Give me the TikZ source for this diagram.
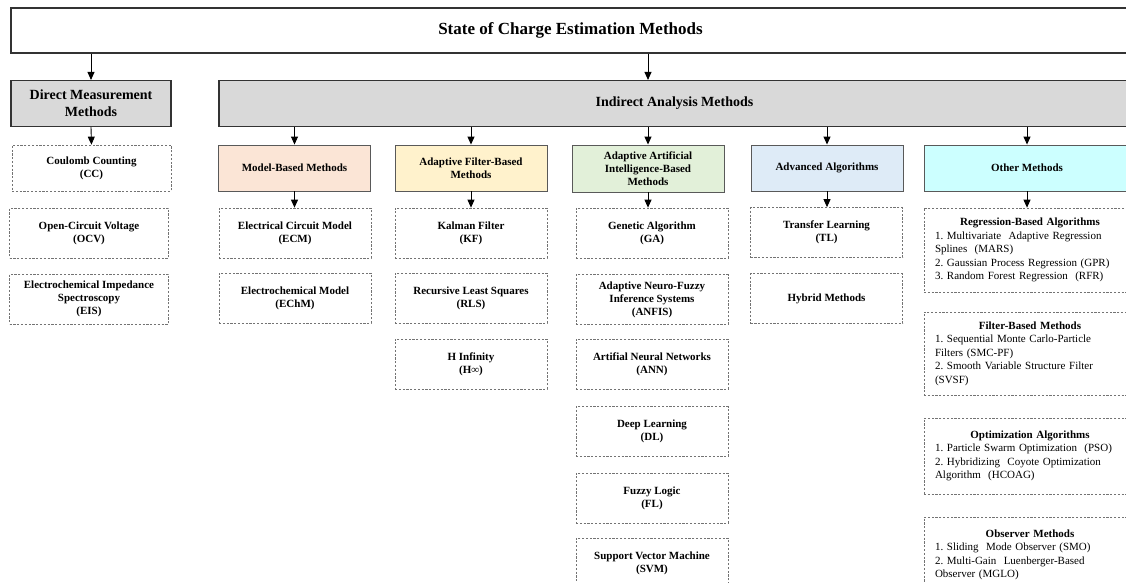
\documentclass[tikz,border=0pt]{standalone}
\usepackage{fontspec}
\setmainfont{Liberation Serif}
\usetikzlibrary{arrows.meta}
\setlength{\parindent}{0pt}

\definecolor{grayfill}{HTML}{D9D9D9}
\definecolor{modelfill}{HTML}{FBE5D6}
\definecolor{filterfill}{HTML}{FFF2CC}
\definecolor{aifill}{HTML}{E2F0D9}
\definecolor{advfill}{HTML}{DEEBF7}
\definecolor{otherfill}{HTML}{CCFFFF}

\begin{document}
\begin{tikzpicture}[x=1pt,y=-1pt,
  arr/.style={-{Triangle[width=7pt,length=8pt]}, line width=0.9pt},
  titlebox/.style={draw=black!80, line width=1.3pt, minimum width=1119pt, minimum height=45pt,
    font=\fontsize{17}{20}\selectfont\bfseries},
  groupbox/.style={draw=black!80, line width=1.1pt, fill=grayfill, minimum height=46pt, align=center,
    font=\fontsize{14}{17}\selectfont\bfseries},
  catbox/.style={draw=black!65, line width=0.9pt, minimum width=152pt, minimum height=46pt,
    inner sep=2pt, align=center, font=\fontsize{11}{13}\selectfont\bfseries},
  methodbox/.style={draw=black!55, line width=0.7pt, dash pattern=on 2.2pt off 1.6pt,
    minimum width=152pt, minimum height=50pt, inner sep=2pt, align=center,
    font=\fontsize{11}{13}\selectfont\bfseries},
  otherbox/.style={draw=black!55, line width=0.7pt, dash pattern=on 2.2pt off 1.6pt,
    text width=190pt, inner xsep=11pt, inner ysep=3pt,
    font=\fontsize{11}{13.5}\selectfont\frenchspacing}]
\useasboundingbox (0,0) rectangle (1126,582);
\clip (0,0) rectangle (1126,582);

% top levels
\node[titlebox] (soc) at (570.5,30.5) {State of Charge Estimation Methods};
\node[groupbox, minimum width=160pt] (direct) at (91,103.5) {Direct Measurement\\Methods};
\node[groupbox, minimum width=911pt] (indirect) at (674.5,103.5) {Indirect Analysis Methods};

% categories
\node[catbox, fill=modelfill] (model) at (294.5,168) {Model-Based Methods};
\node[catbox, fill=filterfill] (filter) at (471,168) {Adaptive Filter-Based\\Methods};
\node[catbox, fill=aifill, minimum height=47pt] (ai) at (648,168.5) {Adaptive Artificial\\Intelligence-Based\\Methods};
\node[catbox, fill=advfill] (adv) at (827,168) {Advanced Algorithms};
\node[catbox, fill=otherfill, minimum width=206pt] (other) at (1027,168) {Other Methods};

% direct measurement
\begin{scope}[every node/.style={methodbox, minimum width=159pt}]
  \node[minimum height=46pt] (cc) at (91.5,168) {Coulomb Counting\\(CC)};
  \node (ocv) at (89,233) {Open-Circuit Voltage\\(OCV)};
  \node (eis) at (89,299) {Electrochemical Impedance\\Spectroscopy\\(EIS)};
\end{scope}

% indirect analysis
\begin{scope}[every node/.style={methodbox}]
  \node (ecm) at (295,233) {Electrical Circuit Model\\(ECM)};
  \node (echm) at (295,298) {Electrochemical Model\\(EChM)};
  \node (kf) at (471,233) {Kalman Filter\\(KF)};
  \node (rls) at (471,298) {Recursive Least Squares\\(RLS)};
  \node (hinf) at (471,364) {H Infinity\\(H∞)};
  \node (ga) at (652,233) {Genetic Algorithm\\(GA)};
  \node (anfis) at (652,299.5) {Adaptive Neuro-Fuzzy\\Inference Systems\\(ANFIS)};
  \node (ann) at (652,364) {Artifial Neural Networks\\(ANN)};
  \node (dl) at (652,431.5) {Deep Learning\\(DL)};
  \node (fl) at (652,498) {Fuzzy Logic\\(FL)};
  \node (svm) at (652,563) {Support Vector Machine\\(SVM)};
  \node (tl) at (826.5,232.5) {Transfer Learning\\(TL)};
  \node (hybrid) at (826.5,298.5) {Hybrid Methods};
\end{scope}

% other methods
\node[otherbox, minimum height=84pt] (regr) at (1030,250) {{\centering\textbf{Regression-Based Algorithms}\par}\raggedright
  1. Multivariate\ \ Adaptive Regression\\Splines\ \ (MARS)\\2. Gaussian Process Regression (GPR)\\3. Random Forest Regression\ \ (RFR)};
\node[otherbox, minimum height=83pt] (filt) at (1030,353.5) {{\centering\textbf{Filter-Based Methods}\par}\raggedright
  1. Sequential Monte Carlo-Particle\\Filters (SMC-PF)\\2. Smooth Variable Structure Filter\\(SVSF)};
\node[otherbox, minimum height=76pt] (optim) at (1030,456) {{\centering\textbf{Optimization Algorithms}\par}\raggedright
  1. Particle Swarm Optimization\ \ (PSO)\\2. Hybridizing\ \ Coyote Optimization\\Algorithm\ \ (HCOAG)};
\node[otherbox, minimum height=76pt] (observer) at (1030,555) {{\centering\textbf{Observer Methods}\par}\raggedright
  1. Sliding\ \ Mode Observer (SMO)\\2. Multi-Gain\ \ Luenberger-Based\\Observer (MGLO)};

% arrows
\draw[arr] (soc.south -| direct.north) -- (direct.north);
\draw[arr] (soc.south -| ai.north) -- (ai.north |- indirect.north);
\foreach \c in {model,filter,ai,adv,other}
  \draw[arr] (indirect.south -| \c.north) -- (\c.north);
\draw[arr] (direct.south) -- (cc.north);
\foreach \c/\m in {model/ecm,filter/kf,ai/ga,adv/tl,other/regr}
  \draw[arr] (\c.south) -- (\c.south |- \m.north);
\end{tikzpicture}
\end{document}
